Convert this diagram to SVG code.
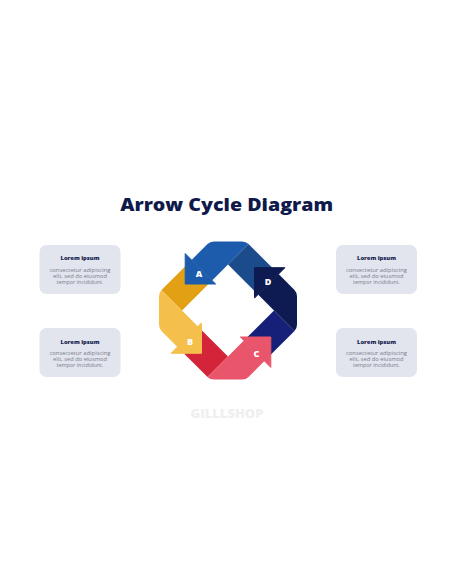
<svg xmlns="http://www.w3.org/2000/svg" width="456" height="586" viewBox="0 0 456 586">
<defs>
<style>
.title{font-family:"Open Sans","Liberation Sans",sans-serif;font-weight:800;font-size:17px;fill:#0f1a4a;text-anchor:middle}
.lbl{font-family:"Open Sans","Liberation Sans",sans-serif;font-weight:800;font-size:9px;fill:#ffffff;text-anchor:middle}
.box{fill:#e2e4ee}
.bh{font-family:"Open Sans","Liberation Sans",sans-serif;font-weight:800;font-size:5.4px;fill:#141c4c;text-anchor:middle}
.bt{font-family:"Open Sans","Liberation Sans",sans-serif;font-weight:400;font-size:4.4px;fill:#7b7e8a;text-anchor:middle}
.wm{font-family:"Open Sans","Liberation Sans",sans-serif;font-weight:800;font-size:13px;fill:#efefef;text-anchor:middle}
</style>
<path id="tail" d="M20.5,-66.5 L50.56,-36.42 L30.05,-15.91 L0,-46 Z"/>
<path id="body" d="M20.5,-66.5 Q18,-69 14,-69 L-14,-69 Q-18,-69 -20.5,-66.5 L-36.4,-50.6 L-15.9,-30.1 L0,-46 Z"/>
<path id="head" d="M-42.8,-26.5 L-42.8,-56.9 L-12.4,-26.5 Z"/>
</defs>
<rect width="456" height="586" fill="#ffffff"/>
<text class="title" x="226.7" y="211" textLength="213" lengthAdjust="spacingAndGlyphs">Arrow Cycle Diagram</text>
<g id="connectors"/>
<g id="ribbon-tails" transform="translate(228,310.5)">
<use href="#tail" fill="#1b4b8b"/>
<use href="#tail" fill="#e2a014" transform="rotate(-90)"/>
<use href="#tail" fill="#d3243a" transform="rotate(180)"/>
<use href="#tail" fill="#172079" transform="rotate(90)"/>
</g>
<g id="arrow-a">
<g transform="translate(228,310.5)">
<use href="#body" fill="#1d5cad"/>
<use href="#head" fill="#1d5cad" stroke="#1d5cad" stroke-width="1" stroke-linejoin="round"/>
</g>
<text class="lbl" x="199" y="276.5">A</text>
</g>
<g id="arrow-b">
<g transform="translate(228,310.5) rotate(-90)">
<use href="#body" fill="#f5bf4c"/>
<use href="#head" fill="#f5bf4c" stroke="#f5bf4c" stroke-width="1" stroke-linejoin="round"/>
</g>
<text class="lbl" x="190" y="344.5">B</text>
</g>
<g id="arrow-c">
<g transform="translate(228,310.5) rotate(180)">
<use href="#body" fill="#e9566b"/>
<use href="#head" fill="#e9566b" stroke="#e9566b" stroke-width="1" stroke-linejoin="round"/>
</g>
<text class="lbl" x="256.5" y="356.5">C</text>
</g>
<g id="arrow-d">
<g transform="translate(228,310.5) rotate(90)">
<use href="#body" fill="#0e1a52"/>
<use href="#head" fill="#0e1a52" stroke="#0e1a52" stroke-width="1" stroke-linejoin="round"/>
</g>
<text class="lbl" x="268" y="285">D</text>
</g>
<g id="box-top-left">
<rect class="box" x="39.5" y="245" width="81" height="49" rx="7"/>
<text class="bh" x="80" y="260" textLength="39" lengthAdjust="spacingAndGlyphs">Lorem ipsum</text>
<text class="bt" x="80" y="271.5" textLength="61" lengthAdjust="spacingAndGlyphs">consectetur adipiscing</text>
<text class="bt" x="80" y="277.5" textLength="54" lengthAdjust="spacingAndGlyphs">elit, sed do eiusmod</text>
<text class="bt" x="80" y="283.5" textLength="47" lengthAdjust="spacingAndGlyphs">tempor incididunt.</text>
</g>
<g id="box-bottom-left">
<rect class="box" x="39.5" y="328" width="81" height="49" rx="7"/>
<text class="bh" x="80" y="343.5" textLength="39" lengthAdjust="spacingAndGlyphs">Lorem ipsum</text>
<text class="bt" x="80" y="355" textLength="61" lengthAdjust="spacingAndGlyphs">consectetur adipiscing</text>
<text class="bt" x="80" y="361" textLength="54" lengthAdjust="spacingAndGlyphs">elit, sed do eiusmod</text>
<text class="bt" x="80" y="367" textLength="47" lengthAdjust="spacingAndGlyphs">tempor incididunt.</text>
</g>
<g id="box-top-right">
<rect class="box" x="336" y="245" width="81" height="49" rx="7"/>
<text class="bh" x="376.5" y="260" textLength="39" lengthAdjust="spacingAndGlyphs">Lorem ipsum</text>
<text class="bt" x="376.5" y="271.5" textLength="61" lengthAdjust="spacingAndGlyphs">consectetur adipiscing</text>
<text class="bt" x="376.5" y="277.5" textLength="54" lengthAdjust="spacingAndGlyphs">elit, sed do eiusmod</text>
<text class="bt" x="376.5" y="283.5" textLength="47" lengthAdjust="spacingAndGlyphs">tempor incididunt.</text>
</g>
<g id="box-bottom-right">
<rect class="box" x="336" y="328" width="81" height="49" rx="7"/>
<text class="bh" x="376.5" y="343.5" textLength="39" lengthAdjust="spacingAndGlyphs">Lorem ipsum</text>
<text class="bt" x="376.5" y="355" textLength="61" lengthAdjust="spacingAndGlyphs">consectetur adipiscing</text>
<text class="bt" x="376.5" y="361" textLength="54" lengthAdjust="spacingAndGlyphs">elit, sed do eiusmod</text>
<text class="bt" x="376.5" y="367" textLength="47" lengthAdjust="spacingAndGlyphs">tempor incididunt.</text>
</g>
<text class="wm" x="227" y="417.5">GILLLSHOP</text>
</svg>
